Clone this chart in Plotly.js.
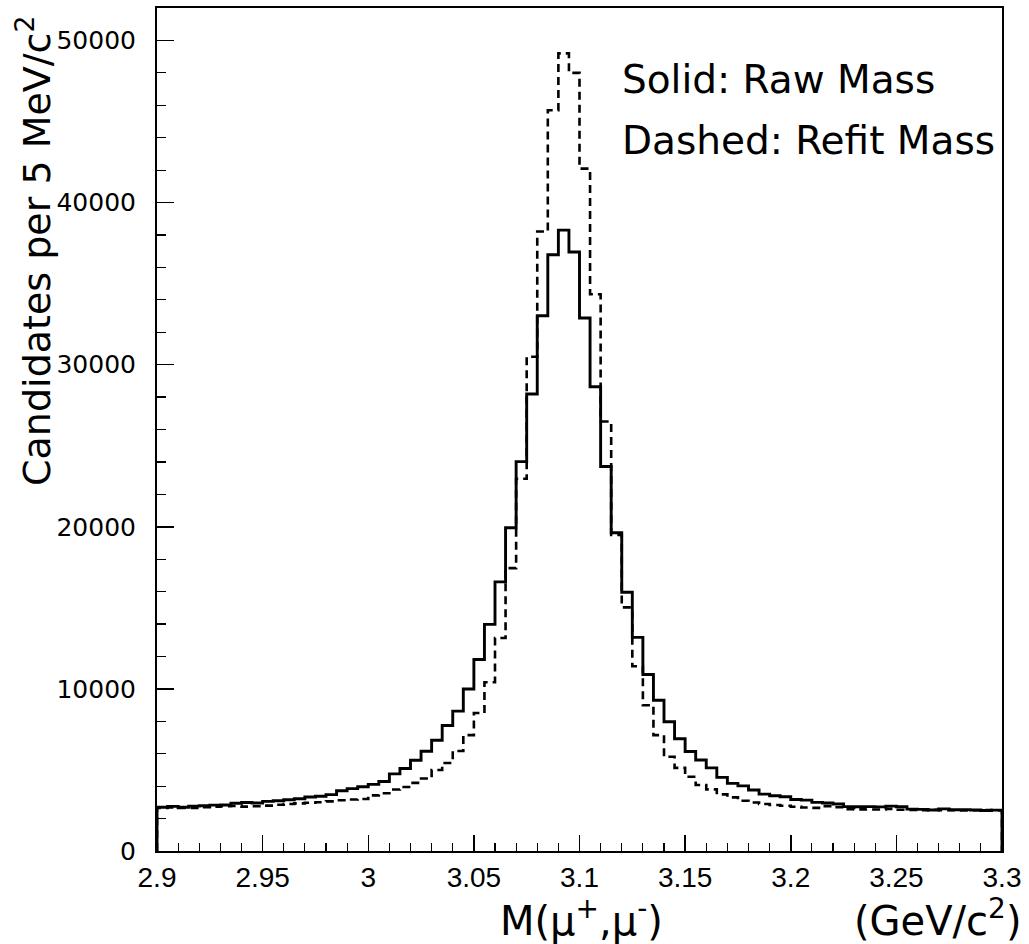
<!DOCTYPE html>
<html><head><meta charset="utf-8">
<script src="https://cdn.plot.ly/plotly-3.0.1.min.js"></script>
<style>html,body{margin:0;padding:0;background:#fff}</style>
</head><body><div id="chart" style="width:1029px;height:944px"></div>
<script>
const binStart = 2.9;
const binWidth = 0.005;

const rawMass = [
  2700, 2750, 2700, 2770, 2790, 2830, 2840, 2950, 2990, 2960,
  3060, 3100, 3160, 3220, 3330, 3380, 3480, 3720, 3850, 3960,
  4110, 4290, 4760, 5090, 5600, 6150, 6830, 7740, 8630, 9990,
  11810, 13980, 16600, 19940, 24020, 28190, 33020, 36780, 38300, 36950,
  32880, 28640, 23720, 19630, 15960, 13180, 10890, 9300, 7970, 6920,
  6140, 5610, 5130, 4540, 4170, 4020, 3760, 3510, 3410, 3350,
  3180, 3140, 3000, 2960, 2900, 2740, 2730, 2740, 2720, 2770,
  2730, 2580, 2570, 2530, 2600, 2540, 2550, 2530, 2500, 2520
];

const refitMass = [
  2660, 2690, 2650, 2660, 2700, 2730, 2760, 2780, 2740, 2760,
  2800, 2850, 2900, 2940, 2980, 3010, 3060, 3130, 3180, 3210,
  3430, 3560, 3790, 3950, 4200, 4470, 5000, 5430, 6170, 7150,
  8510, 10410, 13140, 17450, 22960, 30490, 38210, 45690, 49200, 48000,
  42090, 34340, 26490, 19500, 15030, 11400, 8990, 7150, 5810, 5130,
  4580, 4070, 3800, 3490, 3310, 3100, 2990, 2900, 2840, 2790,
  2730, 2680, 2660, 2770, 2700, 2580, 2570, 2560, 2560, 2600,
  2540, 2530, 2510, 2540, 2520, 2510, 2500, 2510, 2530, 2500
];

const xTickVals = [2.9, 2.95, 3.0, 3.05, 3.1, 3.15, 3.2, 3.25, 3.3];
const xTickText = ['2.9', '2.95', '3', '3.05', '3.1', '3.15', '3.2', '3.25', '3.3'];
const yTickVals = [0, 10000, 20000, 30000, 40000, 50000];
const yTickText = ['0', '10000', '20000', '30000', '40000', '50000'];

const legendLines = ['Solid: Raw Mass', 'Dashed: Refit Mass'];
const xTitleMain = 'M(\u03bc<sup>+</sup>,\u03bc<sup>-</sup>)';
const xTitleUnit = '(GeV/c<sup>2</sup>)';
const yTitle = 'Candidates per 5 MeV/c<sup>2</sup>';

function steps(values) {
  const xs = [binStart], ys = [0];
  values.forEach((v, i) => { xs.push(binStart + i * binWidth); ys.push(v); });
  const end = binStart + values.length * binWidth;
  xs.push(end); ys.push(values[values.length - 1]);
  xs.push(end); ys.push(0);
  return {x: xs, y: ys};
}

const s1 = steps(rawMass), s2 = steps(refitMass);
const traces = [
  {x: s2.x, y: s2.y, type: 'scatter', mode: 'lines', line: {shape: 'hv', color: '#000', width: 2.6, dash: '8px,5px'}, name: 'Refit', hoverinfo: 'skip'},
  {x: s1.x, y: s1.y, type: 'scatter', mode: 'lines', line: {shape: 'hv', color: '#000', width: 2.9}, name: 'Raw', hoverinfo: 'skip'}
];

const axisFontY = {family: 'DejaVu Sans, sans-serif', size: 25, color: '#000'};
const axisFontX = {family: 'Liberation Sans, Arial, sans-serif', size: 28, color: '#000'};
const bigFont = {family: 'DejaVu Sans, sans-serif', size: 39, color: '#000'};
const titleFont = {family: 'DejaVu Sans, sans-serif', size: 38, color: '#000'};
const xTitleFont = {family: 'DejaVu Sans, sans-serif', size: 40, color: '#000'};

const layout = {
  width: 1029, height: 944,
  margin: {l: 157, r: 27, t: 8, b: 93},
  paper_bgcolor: '#fff', plot_bgcolor: '#fff',
  showlegend: false,
  xaxis: {
    range: [2.9, 3.3], showgrid: false, zeroline: false,
    showline: true, linecolor: '#000', linewidth: 2, mirror: true,
    ticks: 'inside', ticklen: 16, tickwidth: 1.5, tickcolor: '#000',
    tickvals: xTickVals, ticktext: xTickText, tickfont: axisFontX,
    ticklabelstandoff: 0,
    minor: {dtick: 0.01, ticks: 'inside', ticklen: 8, tickwidth: 1.2, tickcolor: '#000', showgrid: false}
  },
  yaxis: {
    range: [0, 52000], showgrid: false, zeroline: false,
    showline: true, linecolor: '#000', linewidth: 2, mirror: true,
    ticks: 'inside', ticklen: 17, tickwidth: 1.5, tickcolor: '#000',
    tickvals: yTickVals, ticktext: yTickText, tickfont: axisFontY,
    ticklabelstandoff: 14,
    minor: {dtick: 2000, ticks: 'inside', ticklen: 9, tickwidth: 1.2, tickcolor: '#000', showgrid: false}
  },
  annotations: [
    {text: legendLines[0], xref: 'paper', yref: 'paper', x: 0.548, y: 0.9146, xanchor: 'left', yanchor: 'middle', showarrow: false, font: bigFont},
    {text: legendLines[1], xref: 'paper', yref: 'paper', x: 0.548, y: 0.8434, xanchor: 'left', yanchor: 'middle', showarrow: false, font: bigFont},
    {text: yTitle, xref: 'paper', yref: 'paper', x: -0.1455, y: 0.993, xanchor: 'center', yanchor: 'top', textangle: -90, showarrow: false, font: titleFont},
    {text: xTitleMain, xref: 'paper', yref: 'paper', x: 0.5018, y: -0.047, xanchor: 'center', yanchor: 'top', borderpad: 0, showarrow: false, font: xTitleFont},
    {text: xTitleUnit, xref: 'paper', yref: 'paper', x: 1.024, y: -0.047, xanchor: 'right', yanchor: 'top', borderpad: 0, showarrow: false, font: xTitleFont}
  ]
};

Plotly.newPlot('chart', traces, layout, {displayModeBar: false, staticPlot: true});
</script>
</body></html>
